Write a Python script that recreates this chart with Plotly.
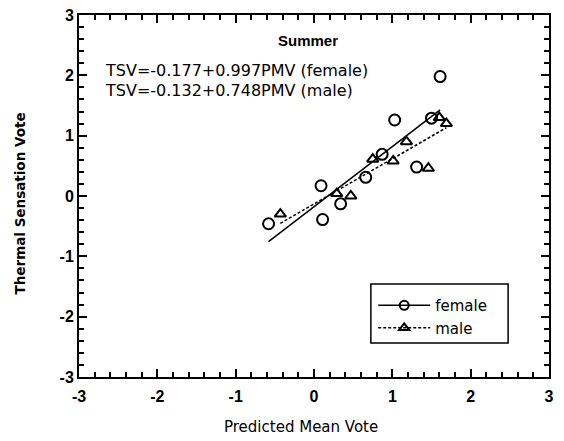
import numpy as np
import plotly.graph_objects as go

# Data
female_pmv = [-0.58, 0.09, 0.11, 0.34, 0.66, 0.87, 1.03, 1.31, 1.50, 1.61]
female_tsv = [-0.46, 0.17, -0.39, -0.13, 0.31, 0.69, 1.26, 0.48, 1.29, 1.98]
male_pmv = [-0.43, 0.29, 0.47, 0.75, 1.01, 1.18, 1.46, 1.60, 1.69]
male_tsv = [-0.30, 0.04, 0.00, 0.61, 0.58, 0.90, 0.46, 1.30, 1.20]

female_intercept, female_slope = -0.177, 0.997
male_intercept, male_slope = -0.132, 0.748

axis_ticks = [-3, -2, -1, 0, 1, 2, 3]
axis_tick_labels = ["-3", "-2", "-1", "0", "1", "2", "3"]
minor_step = 0.2

FONT = "Liberation Sans, Arial, sans-serif"
WIDE = "DejaVu Sans, sans-serif"

fx = np.array([min(female_pmv), max(female_pmv)])
mx = np.array([min(male_pmv), max(male_pmv)])

fig = go.Figure()
# markers
fig.add_trace(go.Scatter(x=female_pmv, y=female_tsv, mode="markers", showlegend=False,
                         marker=dict(symbol="circle-open", size=11, color="black",
                                     line=dict(width=2, color="black"))))
fig.add_trace(go.Scatter(x=male_pmv, y=male_tsv, mode="markers", showlegend=False,
                         marker=dict(symbol="triangle-up-open", size=10, color="black",
                                     line=dict(width=2, color="black"))))
# regression lines
fig.add_trace(go.Scatter(x=fx, y=female_intercept + female_slope * fx, mode="lines",
                         showlegend=False, line=dict(color="black", width=1.5)))
fig.add_trace(go.Scatter(x=mx, y=male_intercept + male_slope * mx, mode="lines",
                         showlegend=False, line=dict(color="black", width=1.5, dash="3px,2px")))
# legend entries
fig.add_trace(go.Scatter(x=[None], y=[None], mode="lines+markers", name="female",
                         line=dict(color="black", width=1.5),
                         marker=dict(symbol="circle-open", size=9, color="black",
                                     line=dict(width=2, color="black"))))
fig.add_trace(go.Scatter(x=[None], y=[None], mode="lines+markers", name="male",
                         line=dict(color="black", width=1.5, dash="3px,2px"),
                         marker=dict(symbol="triangle-up-open", size=9, color="black",
                                     line=dict(width=2, color="black"))))
# empty trace that carries the minor-tick overlay axes
fig.add_trace(go.Scatter(x=[None], y=[None], xaxis="x2", yaxis="y2", showlegend=False,
                         hoverinfo="skip"))

rng = [axis_ticks[0], axis_ticks[-1]]
axis_common = dict(
    range=rng, tickmode="array", tickvals=axis_ticks, ticktext=axis_tick_labels,
    ticks="inside", ticklen=8, tickwidth=1.8, tickcolor="black",
    showline=True, linecolor="black", linewidth=2, mirror="allticks",
    showgrid=False, zeroline=False, automargin=False,
    tickfont=dict(family=FONT, size=16, color="black", weight="bold"),
)
minor_common = dict(
    range=rng, tickmode="linear", tick0=axis_ticks[0], dtick=minor_step,
    ticks="inside", ticklen=5, tickwidth=1.6, tickcolor="black",
    showticklabels=False, showline=False, mirror="allticks",
    showgrid=False, zeroline=False, automargin=False, visible=True,
)

fig.update_layout(
    width=564, height=441,
    margin=dict(l=79, r=15, t=15, b=64),
    paper_bgcolor="white", plot_bgcolor="white",
    font=dict(family=FONT, color="black"),
    xaxis=dict(**axis_common, ticklabelstandoff=4),
    yaxis=dict(**axis_common),
    xaxis2=dict(**minor_common, overlaying="x", anchor="y", side="bottom"),
    yaxis2=dict(**minor_common, overlaying="y", anchor="x", side="left"),
    legend=dict(x=0.626, y=0.243, xanchor="left", yanchor="top",
                borderwidth=0, bgcolor="rgba(0,0,0,0)",
                font=dict(family=WIDE, size=15, color="black"), tracegroupgap=0,
                itemwidth=52),
    shapes=[
        dict(type="rect", xref="paper", yref="paper", x0=0.621, x1=0.913, y0=0.094, y1=0.257,
             line=dict(color="black", width=1.5), fillcolor="rgba(0,0,0,0)", layer="above"),
    ],
    annotations=[
        dict(text="Predicted Mean Vote", xref="paper", yref="paper", x=0.472, y=-0.138,
             xanchor="center", yanchor="middle", showarrow=False,
             font=dict(family=WIDE, size=15, color="black")),
        dict(text="<b>Thermal Sensation Vote</b>", xref="paper", yref="paper",
             x=-0.125, y=0.48, xanchor="center", yanchor="middle", textangle=-90,
             showarrow=False, font=dict(family=WIDE, size=13.5, color="black")),
        dict(text="<b>Summer</b>", xref="paper", yref="paper", x=0.488, y=0.93,
             xanchor="center", yanchor="middle", showarrow=False,
             font=dict(family=FONT, size=15, color="black")),
        dict(text="TSV=-0.177+0.997PMV (female)", xref="paper", yref="paper",
             x=0.05, y=0.847, xanchor="left", yanchor="middle", showarrow=False,
             font=dict(family=WIDE, size=16, color="black")),
        dict(text="TSV=-0.132+0.748PMV (male)", xref="paper", yref="paper",
             x=0.05, y=0.792, xanchor="left", yanchor="middle", showarrow=False,
             font=dict(family=WIDE, size=16, color="black")),
    ],
)

fig.write_html("out.html")
